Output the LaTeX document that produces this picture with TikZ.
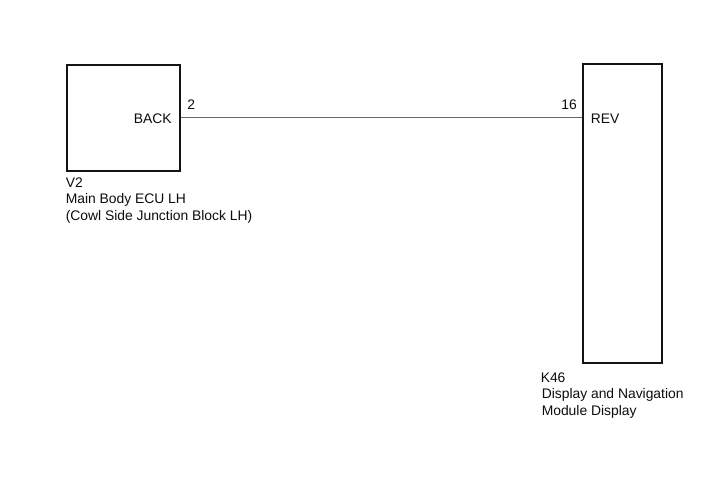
\documentclass[tikz,border=0pt]{standalone}
\usepackage{fontspec}
\setmainfont{Liberation Sans}
\tikzset{x=0.75pt,y=-0.75pt,
  box/.style={draw=black!92,line width=1.4pt,fill=white,inner sep=0pt,anchor=center},
  lbl/.style={font=\fontsize{10.4pt}{12pt}\selectfont,text=black!95,inner sep=0pt,anchor=base west},
  lblr/.style={font=\fontsize{10.4pt}{12pt}\selectfont,text=black!95,inner sep=0pt,anchor=base east},
  wire/.style={draw=black!60,line width=1pt}}
\begin{document}
\begin{tikzpicture}
\useasboundingbox[fill=white] (0,0) rectangle (713,481);
\node[box,minimum width=85.1pt,minimum height=79.5pt] (ecu) at (123.4,117.7) {};
\node[box,minimum width=58.8pt,minimum height=224.2pt] (mod) at (622.5,213.9) {};
\draw[wire] (ecu.east) -- (mod.west |- ecu.east);
\node[lblr] (back) at (172,124) {BACK};
\node[lbl] (rev) at (590.5,123.3) {REV};
\node[lbl] (p2) at (187,110) {2};
\node[lblr] (p16) at (577,110) {16};
\node[lbl] (v2) at (65.5,187) {V2};
\node[lbl] (v2a) at (65.5,203) {Main Body ECU LH};
\node[lbl] (v2b) at (65.5,220.5) {(Cowl Side Junction Block LH)};
\node[lbl] (k46) at (540.5,382) {K46};
\node[lbl] (k46a) at (541.5,398) {Display and Navigation};
\node[lbl] (k46b) at (541.5,415) {Module Display};
\end{tikzpicture}
\end{document}
